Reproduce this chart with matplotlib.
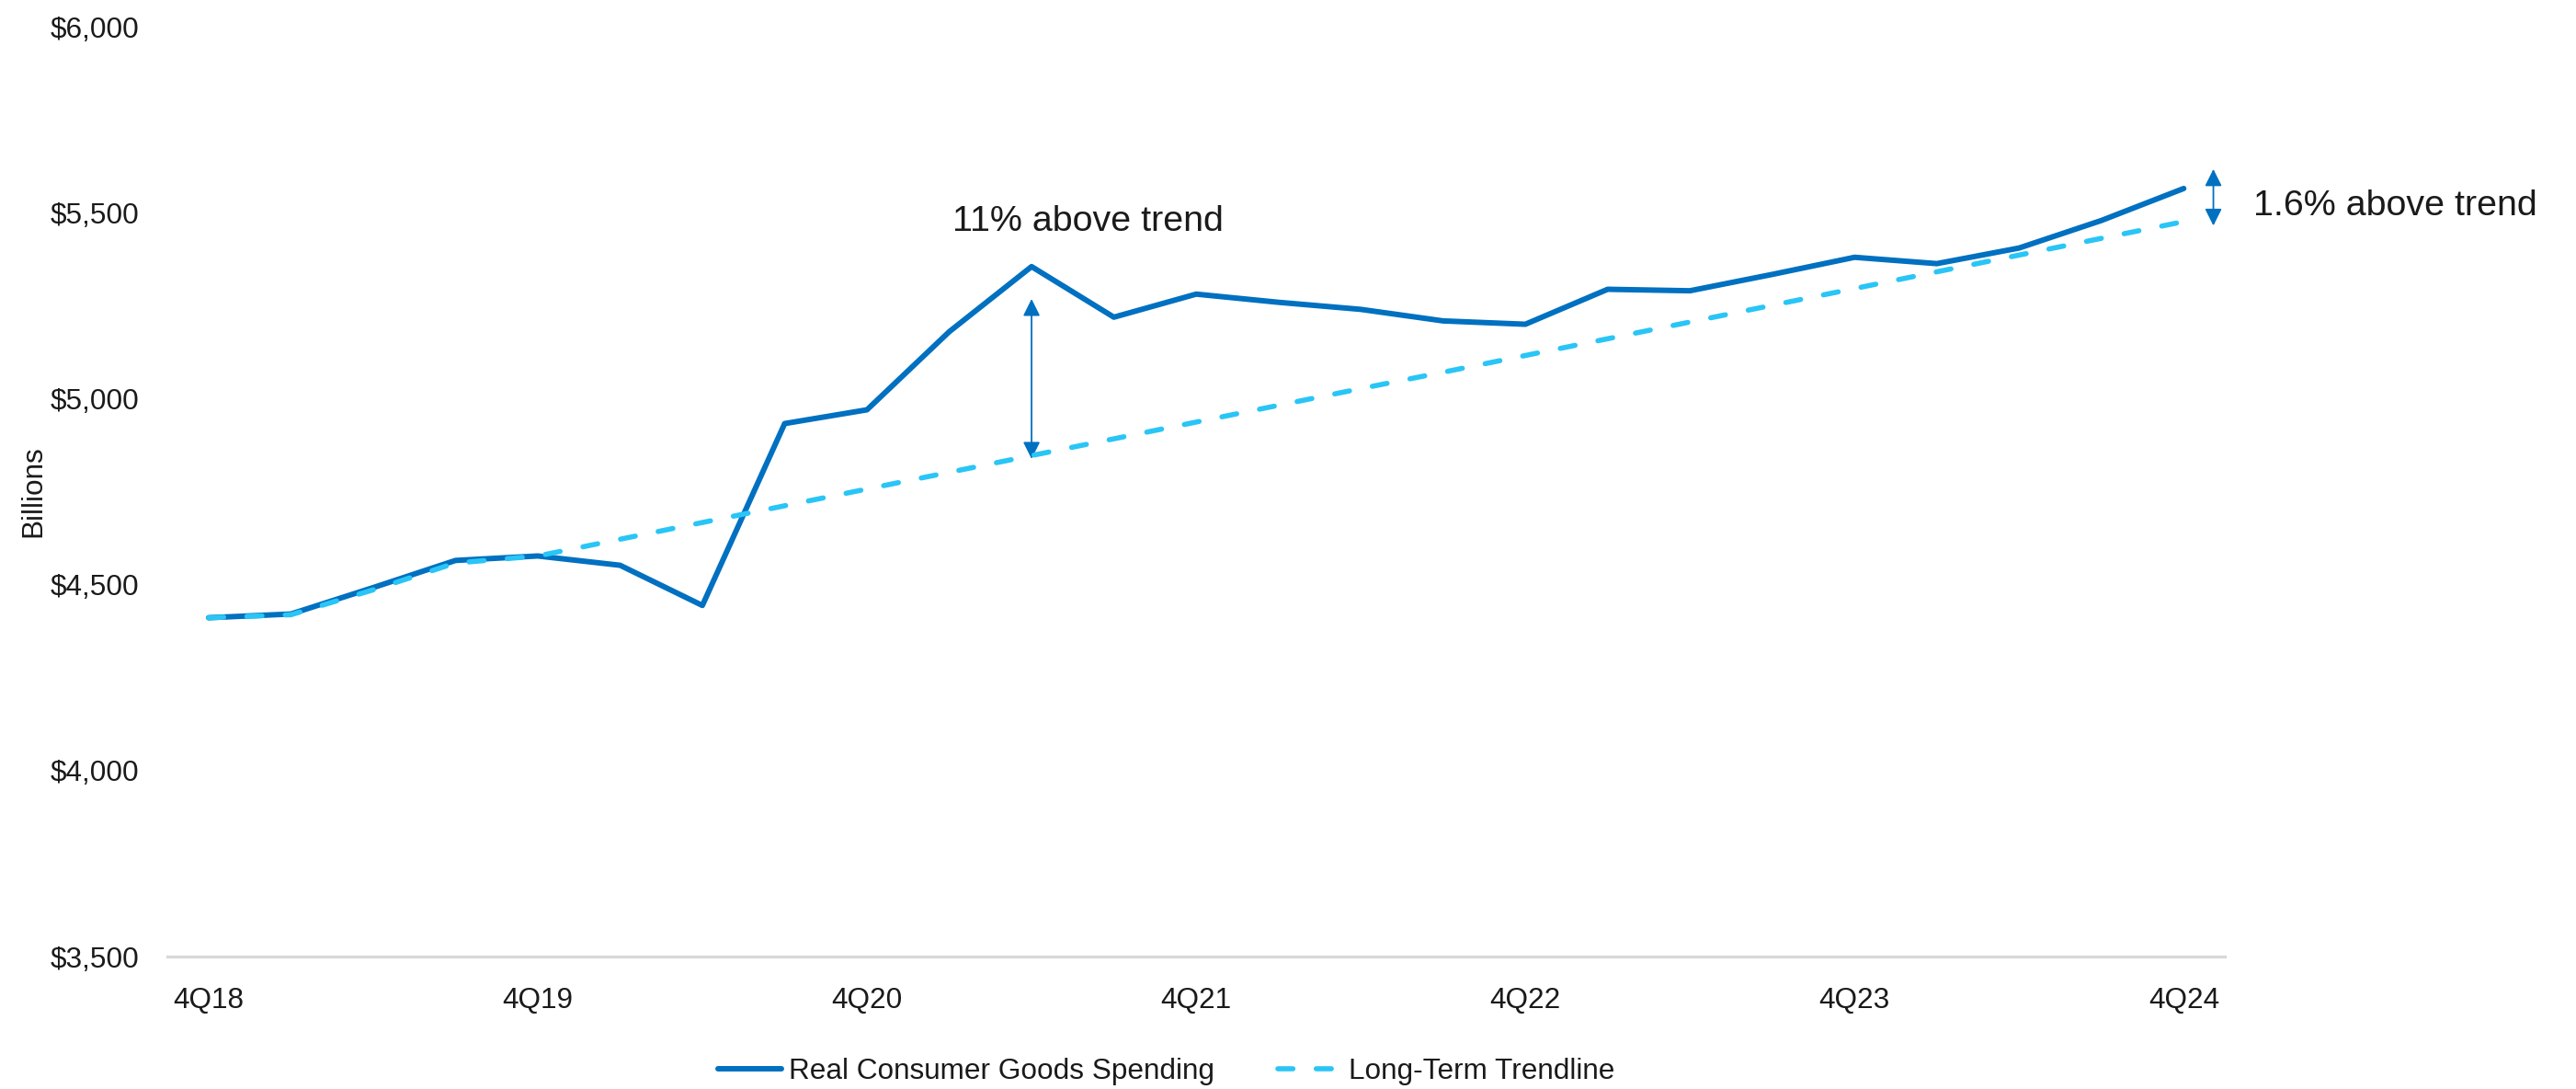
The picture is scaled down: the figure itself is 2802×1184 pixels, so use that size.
import matplotlib
matplotlib.use("Agg")
import matplotlib.pyplot as plt
import numpy as np

plt.rcParams["font.family"] = ["Liberation Sans", "DejaVu Sans"]

# Quarterly categories 4Q18 .. 4Q24
quarters = [
    "4Q18", "1Q19", "2Q19", "3Q19", "4Q19", "1Q20", "2Q20", "3Q20", "4Q20",
    "1Q21", "2Q21", "3Q21", "4Q21", "1Q22", "2Q22", "3Q22", "4Q22",
    "1Q23", "2Q23", "3Q23", "4Q23", "1Q24", "2Q24", "3Q24", "4Q24",
]

# Real consumer goods spending, billions of dollars
spending = [
    4411, 4421, 4492, 4565, 4577, 4552, 4444, 4933, 4970,
    5180, 5355, 5219, 5281, 5259, 5240, 5209, 5200,
    5294, 5290, 5334, 5380, 5363, 5405, 5479, 5565,
]

# Long-term trendline, billions of dollars
trend = [
    4411, 4419, 4486, 4558, 4577, 4622, 4667, 4712, 4757,
    4802, 4847, 4892, 4937, 4982, 5027, 5071, 5116,
    5161, 5206, 5251, 5296, 5341, 5386, 5431, 5476,
]

tick_labels = ["4Q18", "4Q19", "4Q20", "4Q21", "4Q22", "4Q23", "4Q24"]
y_ticks = [3500, 4000, 4500, 5000, 5500, 6000]

# Gap annotations: (arrow x, arrow low, arrow high, label, label x, label y, ha)
gap_peak = (10, 4838, 5268, "11% above trend", 10.68, 5477, "center")
gap_last = (24.36, 5465, 5617, "1.6% above trend", 24.85, 5519, "left")

dark_blue = "#0070C0"
light_blue = "#29C5F6"
text_color = "#1a1a1a"

fig = plt.figure(figsize=(28.02, 11.84), dpi=100)
ax = fig.add_axes([0.065, 0.1216, 0.7987, 0.8539])

x = np.arange(len(quarters))
ax.plot(x, spending, color=dark_blue, lw=4.3, solid_joinstyle="round",
        solid_capstyle="round", label="Real Consumer Goods Spending", zorder=3)
ax.plot(x, trend, color=light_blue, lw=4.0, dashes=(2.95, 4.56),
        dash_capstyle="round", label="Long-Term Trendline", zorder=4)

for xi, lo, hi, txt, tx, ty, ha in (gap_peak, gap_last):
    ax.annotate("", xy=(xi, hi), xytext=(xi, lo),
                arrowprops=dict(arrowstyle="<|-|>", color=dark_blue, lw=1.3,
                                mutation_scale=28, shrinkA=0, shrinkB=0))
    ax.text(tx, ty, txt, ha=ha, va="center", fontsize=28.4, color=text_color)

ax.set_xlim(-0.5, len(quarters) - 0.5)
ax.set_ylim(3500, 6000)
ax.set_xticks([quarters.index(t) for t in tick_labels])
ax.set_xticklabels(tick_labels)
ax.set_yticks(y_ticks)
ax.set_yticklabels([f"${v:,.0f}" for v in y_ticks])
ax.tick_params(axis="both", length=0, labelsize=22.7, colors=text_color)
ax.tick_params(axis="x", pad=24)
ax.tick_params(axis="y", pad=22)

for side in ("top", "right", "left"):
    ax.spines[side].set_visible(False)
ax.spines["bottom"].set_color("#D9D9D9")
ax.spines["bottom"].set_linewidth(2.4)

ax.set_ylabel("Billions", fontsize=22.7, color=text_color)
ax.yaxis.set_label_coords(-0.0585, 0.5)

fig.legend(loc="center", bbox_to_anchor=(0.4528, 0.016), ncol=2, frameon=False,
           fontsize=22.7, handlelength=2.2, handletextpad=0.25,
           columnspacing=2.2, labelcolor=text_color)

fig.savefig("out.png", dpi=100, facecolor="white")
